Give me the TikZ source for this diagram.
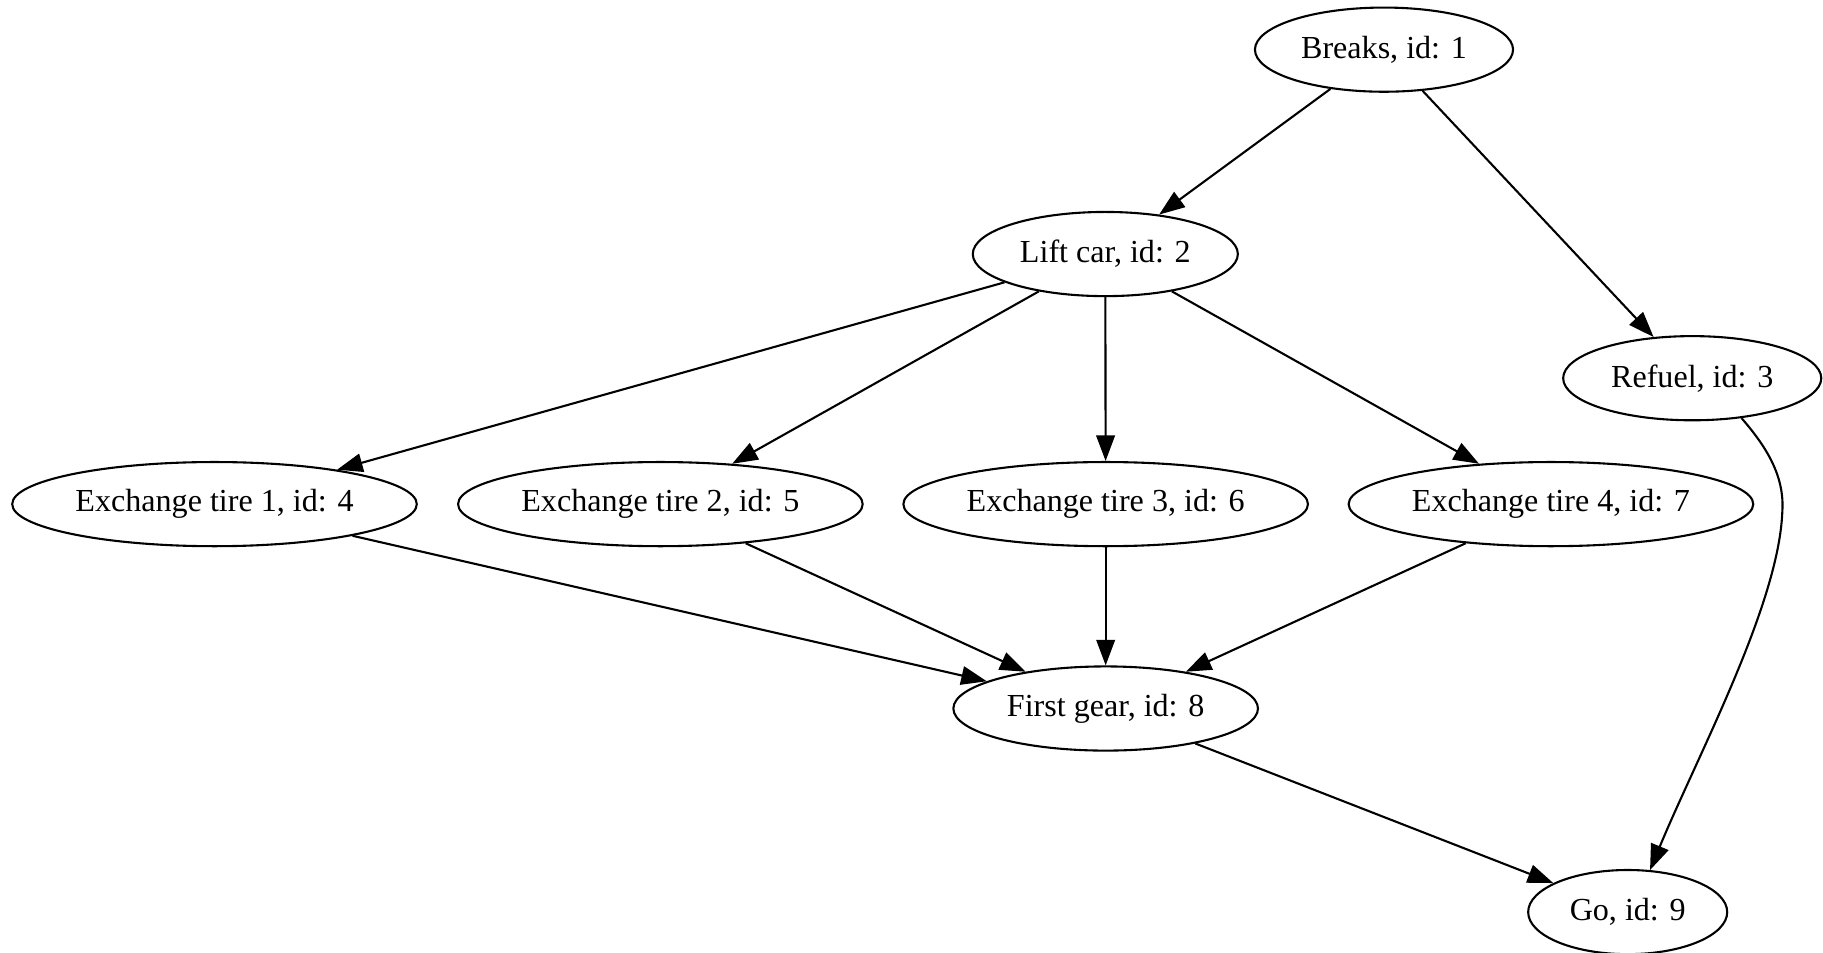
\documentclass[tikz,border=0pt]{standalone}
\usepackage{fontspec}
\setmainfont{Liberation Serif}
\usetikzlibrary{shapes.geometric,arrows.meta}
\begin{document}
\begin{tikzpicture}[x=0.5pt,y=-0.5pt,
  task/.style={draw, ellipse, line width=0.9pt, inner sep=0pt,
    minimum height=36.2pt, font=\fontsize{13.8}{16}\selectfont},
  dep/.style={draw, line width=0.9pt, -{Triangle[length=11pt,width=8pt]}}]
  \useasboundingbox (0,0) rectangle (1568,819);
  \fill[white] (0,0) rectangle (1568,819);

  % tasks
  \node[task, minimum width=111pt] (b1) at (1190.4,42.7) {Breaks, id: 1};
  \node[task, minimum width=114pt] (b2) at (950.7,218.5) {Lift car, id: 2};
  \node[task, minimum width=111pt] (b3) at (1455.5,325.3) {Refuel, id: 3};
  \node[task, minimum width=174pt] (b4) at (184.5,433.6) {Exchange tire 1, id: 4};
  \node[task, minimum width=174pt] (b5) at (568,433.6) {Exchange tire 2, id: 5};
  \node[task, minimum width=174pt] (b6) at (951,433.6) {Exchange tire 3, id: 6};
  \node[task, minimum width=174pt] (b7) at (1334,433.6) {Exchange tire 4, id: 7};
  \node[task, minimum width=131pt] (b8) at (951,609.4) {First gear, id: 8};
  \node[task, minimum width=85.6pt] (b9) at (1400,784.5) {Go, id: 9};

  % dependencies
  \draw[dep] (b1) -- (b2);
  \draw[dep] (b1) -- (b3);
  \draw[dep] (b2) -- (b4);
  \draw[dep] (b2) -- (b5);
  \draw[dep] (b2) -- (b6);
  \draw[dep] (b2) -- (b7);
  \draw[dep] (b4) -- (b8);
  \draw[dep] (b5) -- (b8);
  \draw[dep] (b6) -- (b8);
  \draw[dep] (b7) -- (b8);
  \draw[dep] (b8) -- (b9);
  \draw[dep] (b3.-39) .. controls (1520,385) and (1535,410) .. (1533,440)
                      .. controls (1530,520) and (1460,650) .. (b9.62);
\end{tikzpicture}
\end{document}
